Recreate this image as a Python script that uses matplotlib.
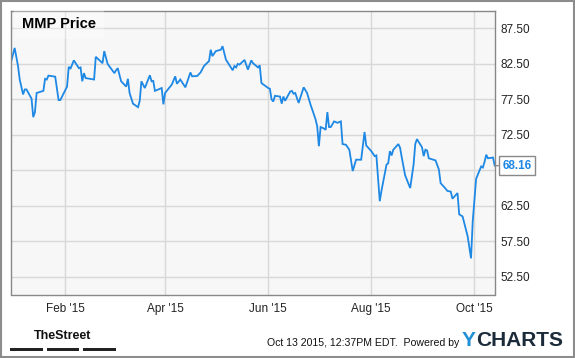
import numpy as np
import pandas as pd
import matplotlib
matplotlib.use("Agg")
import matplotlib.pyplot as plt
import matplotlib.dates as mdates
from matplotlib.patches import Rectangle

# MMP closing price
dates = [
    "2014-12-31", "2015-01-02", "2015-01-04", "2015-01-05", "2015-01-07", "2015-01-08",
    "2015-01-09", "2015-01-12", "2015-01-13", "2015-01-14", "2015-01-15", "2015-01-19",
    "2015-01-20", "2015-01-21", "2015-01-22", "2015-01-26", "2015-01-28", "2015-01-29",
    "2015-02-02", "2015-02-03", "2015-02-04", "2015-02-06", "2015-02-09", "2015-02-10",
    "2015-02-11", "2015-02-12", "2015-02-13", "2015-02-18", "2015-02-19", "2015-02-23",
    "2015-02-24", "2015-02-26", "2015-03-02", "2015-03-03", "2015-03-04", "2015-03-06",
    "2015-03-09", "2015-03-10", "2015-03-11", "2015-03-13", "2015-03-16", "2015-03-17",
    "2015-03-18", "2015-03-20", "2015-03-23", "2015-03-24", "2015-03-25", "2015-03-26",
    "2015-03-30", "2015-03-31", "2015-04-01", "2015-04-05", "2015-04-07", "2015-04-08",
    "2015-04-10", "2015-04-13", "2015-04-16", "2015-04-17", "2015-04-20", "2015-04-22",
    "2015-04-24", "2015-04-27", "2015-04-28", "2015-04-29", "2015-05-01", "2015-05-04",
    "2015-05-05", "2015-05-07", "2015-05-11", "2015-05-12", "2015-05-13", "2015-05-14",
    "2015-05-15", "2015-05-18", "2015-05-20", "2015-05-22", "2015-05-23", "2015-05-26",
    "2015-05-27", "2015-05-28", "2015-06-01", "2015-06-02", "2015-06-03", "2015-06-04",
    "2015-06-05", "2015-06-08", "2015-06-09", "2015-06-10", "2015-06-11", "2015-06-14",
    "2015-06-15", "2015-06-16", "2015-06-17", "2015-06-19", "2015-06-22", "2015-06-24",
    "2015-06-26", "2015-06-29", "2015-06-30", "2015-07-01", "2015-07-02", "2015-07-04",
    "2015-07-05", "2015-07-06", "2015-07-07", "2015-07-08", "2015-07-10", "2015-07-12",
    "2015-07-14", "2015-07-15", "2015-07-17", "2015-07-19", "2015-07-21", "2015-07-23",
    "2015-07-26", "2015-07-28", "2015-07-29", "2015-08-01", "2015-08-03", "2015-08-04",
    "2015-08-06", "2015-08-07", "2015-08-10", "2015-08-11", "2015-08-12", "2015-08-13",
    "2015-08-14", "2015-08-17", "2015-08-18", "2015-08-19", "2015-08-21", "2015-08-24",
    "2015-08-26", "2015-08-27", "2015-08-28", "2015-08-31", "2015-09-01", "2015-09-02",
    "2015-09-03", "2015-09-04", "2015-09-08", "2015-09-10", "2015-09-11", "2015-09-14",
    "2015-09-15", "2015-09-17", "2015-09-18", "2015-09-21", "2015-09-22", "2015-09-24",
    "2015-09-27", "2015-09-29", "2015-09-30", "2015-10-02", "2015-10-05", "2015-10-06",
    "2015-10-07", "2015-10-08", "2015-10-09", "2015-10-12", "2015-10-13",
]
prices = [
    82.9, 84.75, 82.2, 80.3, 78.2, 78.9,
    78.9, 77.6, 75.0, 75.7, 78.4, 78.7,
    80.4, 80.3, 80.85, 80.7, 77.4, 77.4,
    79.3, 82.1, 81.8, 83.0, 81.9, 82.0,
    80.05, 81.2, 80.5, 80.3, 83.5, 82.6,
    84.3, 82.5, 81.2, 81.6, 81.9, 80.05,
    79.3, 80.4, 78.4, 76.9, 76.4, 77.3,
    80.05, 79.1, 80.9, 80.05, 80.1, 78.7,
    79.1, 76.8, 78.4, 79.6, 80.75, 79.7,
    80.3, 79.2, 81.3, 80.75, 80.8, 81.3,
    82.2, 82.9, 84.5, 83.6, 84.3, 84.5,
    85.0, 83.1, 81.6, 82.2, 82.0, 82.5,
    82.4, 83.06, 81.7, 83.0, 82.6, 82.0,
    82.3, 79.8, 79.1, 79.0, 77.5, 77.2,
    78.0, 77.9, 76.9, 77.9, 77.3, 78.6,
    78.7, 78.3, 78.4, 77.0, 79.2, 78.4,
    76.8, 74.7, 73.7, 70.9, 73.6, 73.4,
    73.2, 75.7, 73.6, 73.6, 74.4, 74.2,
    74.4, 71.2, 71.1, 70.4, 67.4, 69.0,
    69.0, 72.9, 71.0, 70.2, 69.5, 69.6,
    63.15, 64.6, 68.3, 68.5, 70.2, 69.6,
    70.4, 71.2, 70.7, 69.35, 66.8, 65.0,
    68.3, 71.2, 71.9, 70.75, 69.5, 70.4,
    70.3, 69.2, 68.9, 67.6, 65.7, 64.9,
    64.6, 64.5, 63.5, 64.3, 61.3, 61.0,
    58.2, 55.1, 60.3, 66.3, 68.05, 67.9,
    68.7, 69.7, 69.2, 69.3, 68.16,
]
ytick_vals = [52.5, 57.5, 62.5, 67.5, 72.5, 77.5, 82.5, 87.5]
xtick_dates = ["2015-02-01", "2015-04-01", "2015-06-01", "2015-08-01", "2015-10-01"]

W, H = 575, 358
blue = "#1e88e5"
font = ["Liberation Sans", "DejaVu Sans"]
plt.rcParams["font.family"] = font

dt = pd.to_datetime(dates)
fig = plt.figure(figsize=(W / 100, H / 100), dpi=100)
fig.patch.set_facecolor("white")


def fx(px):
    return px / W


def fy(py):
    return 1 - py / H


ax = fig.add_axes([fx(10.7), fy(294.5), fx(494.7 - 10.7), (294.5 - 10.7) / H])
ax.set_facecolor("#f7f7f7")
ax.plot(dt, prices, color=blue, lw=1.3, solid_joinstyle="miter")

ax.set_xlim(dt[0] - pd.Timedelta(hours=8), dt[-1])
ax.set_ylim(50, 90)

ax.set_yticks(ytick_vals)
ax.set_yticklabels(["" if v == 67.5 else f"{v:.2f}" for v in ytick_vals])
ax.yaxis.tick_right()
ax.set_xticks(pd.to_datetime(xtick_dates))
ax.xaxis.set_major_formatter(mdates.DateFormatter("%b '%y"))
ax.tick_params(length=0, labelsize=8.5, colors="#222222")
ax.tick_params(axis="y", pad=4)
ax.tick_params(axis="x", pad=6)
ax.grid(True, color="#d8d8d8", lw=1)
ax.set_axisbelow(True)
for s in ax.spines.values():
    s.set_color("#888888")
    s.set_linewidth(1)

# title inside the plot
ax.text(0.024, 0.952, "MMP Price", transform=ax.transAxes, fontsize=10.5,
        fontweight="bold", color="black", va="center", ha="left",
        bbox=dict(boxstyle="square,pad=0.55", fc="white", ec="none", alpha=0.3))

# last value flag
ax.annotate(f"{prices[-1]:.2f}", xy=(dt[-1], prices[-1]), xytext=(5.5, 0),
            textcoords="offset points", va="center", ha="left",
            fontsize=8.5, fontweight="bold", color=blue, annotation_clip=False,
            bbox=dict(boxstyle="square,pad=0.3", fc="white", ec="#888888", lw=1),
            arrowprops=dict(arrowstyle="-", color="#888888", lw=1,
                            shrinkA=0, shrinkB=0))

# footer
fig.text(fx(63), fy(336), "TheStreet", ha="center", va="center", fontsize=9,
         fontweight="bold", family=["Liberation Sans Narrow", "Liberation Sans"],
         color="#111111")
for x0, x1 in [(10, 42.7), (46.7, 79.3), (83.3, 116)]:
    fig.patches.append(Rectangle((fx(x0), fy(351)), fx(x1 - x0), 3.5 / H,
                                 transform=fig.transFigure, fc="#222222", ec="none"))
fig.text(fx(459), fy(343), "Oct 13 2015, 12:37PM EDT.  Powered by", ha="right",
         va="center", fontsize=7.6, color="#111111")
fig.text(fx(462), fy(341), "Y", ha="left", va="center", fontsize=15,
         fontweight="bold", color="#1f8fd8")
fig.text(fx(476), fy(341), "CHARTS", ha="left", va="center", fontsize=15,
         fontweight="bold", color="#1c2b3a")

# outer frame
fig.patches.append(Rectangle((fx(1), fy(356.5)), fx(572.5), 355.5 / H,
                             transform=fig.transFigure, fc="none", ec="#8c8c8c", lw=1.5))

fig.savefig("out.png", dpi=100)
